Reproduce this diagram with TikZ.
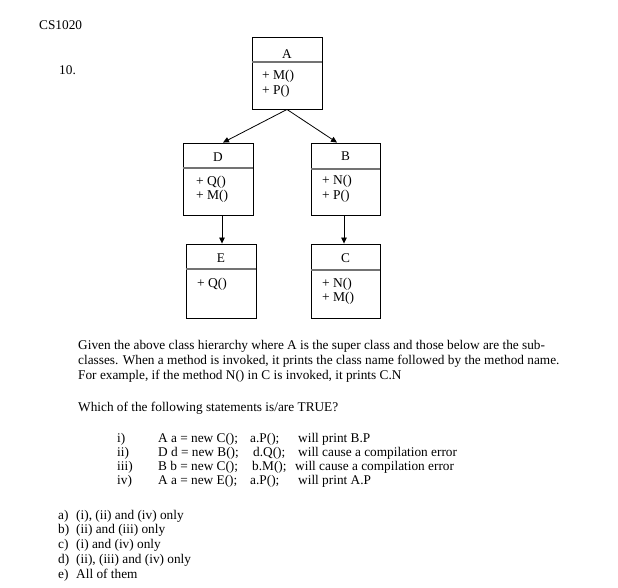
\documentclass[tikz,border=0pt]{standalone}
\usepackage{fontspec}
\setmainfont{Liberation Serif}
\usetikzlibrary{arrows.meta,calc}
\tikzset{
  cls/.style={draw=black, line width=0.9pt, fill=white, inner sep=0pt},
  divider/.style={draw=black!55, line width=1.3pt},
  txt/.style={anchor=base west, inner sep=0pt, font=\fontsize{13.3}{15}\selectfont},
  btxt/.style={anchor=base west, inner sep=0pt, font=\fontsize{13.5}{15}\selectfont},
  bname/.style={anchor=base, inner sep=0pt, font=\fontsize{13.3}{15}\selectfont},
  inh/.style={draw=black, line width=0.8pt, -{Triangle[length=6pt,width=5.5pt]}}
}
\begin{document}
\begin{tikzpicture}[x=1pt,y=-1pt]
\useasboundingbox[fill=white] (0,0) rectangle (618,587);

% header
\node[txt] (hdr) at (39,29) {CS1020};
\node[txt] (qn) at (59,74) {10.};

% class boxes
\node[cls, minimum width=70pt, minimum height=72pt] (A) at (287,73) {};
\node[cls, minimum width=70pt, minimum height=72pt] (D) at (218,179) {};
\node[cls, minimum width=69pt, minimum height=72pt] (B) at (345.5,179) {};
\node[cls, minimum width=70pt, minimum height=74pt] (E) at (221,281) {};
\node[cls, minimum width=69pt, minimum height=74pt] (C) at (345.5,281) {};

% dividers
\draw[divider] (A.west |- 0,62) -- (A.east |- 0,62);
\draw[divider] (D.west |- 0,168) -- (D.east |- 0,168);
\draw[divider] (B.west |- 0,169) -- (B.east |- 0,169);
\draw[divider] (E.west |- 0,269) -- (E.east |- 0,269);
\draw[divider] (C.west |- 0,270) -- (C.east |- 0,270);

% box contents
\node[bname] (An) at (287,58) {A};
\node[btxt] (Am1) at (262,79) {+ M()};
\node[btxt] (Am2) at (262,94) {+ P()};

\node[bname] (Dn) at (218,161) {D};
\node[btxt] (Dm1) at (196,185) {+ Q()};
\node[btxt] (Dm2) at (196,199) {+ M()};

\node[bname] (Bn) at (345.5,160) {B};
\node[btxt] (Bm1) at (322,184) {+ N()};
\node[btxt] (Bm2) at (322,199) {+ P()};

\node[bname] (En) at (221,262) {E};
\node[btxt] (Em1) at (197,287) {+ Q()};

\node[bname] (Cn) at (345.5,262) {C};
\node[btxt] (Cm1) at (322,287) {+ N()};
\node[btxt] (Cm2) at (322,301) {+ M()};

% connectors
\draw[inh] (A.south) -- ($(D.north)+(5,0)$);
\draw[inh] (A.south) -- ($(B.north)+(-8.5,0)$);
\draw[inh] (D.south -| 222,0) -- (E.north -| 222,0);
\draw[inh] (B.south -| 344,0) -- (C.north -| 344,0);

% paragraph
\node[txt] (p1) at (78,349) {Given the above class hierarchy where A is the super class and those below are the sub-};
\node[txt] (p2) at (78,364) {classes. When a method is invoked, it prints the class name followed by the method name.};
\node[txt] (p3) at (78,379) {For example, if the method N() in C is invoked, it prints C.N};
\node[txt] (p4) at (78,411) {Which of the following statements is/are TRUE?};

% statements
\node[txt] (s1r) at (117,442) {i)};
\node[txt] (s1a) at (158,442) {A a = new C();};
\node[txt] (s1b) at (250,442) {a.P();};
\node[txt] (s1c) at (298,442) {will print B.P};

\node[txt] (s2r) at (117,456) {ii)};
\node[txt] (s2a) at (158,456) {D d = new B();};
\node[txt] (s2b) at (253,456) {d.Q();};
\node[txt] (s2c) at (298,456) {will cause a compilation error};

\node[txt] (s3r) at (117,470) {iii)};
\node[txt] (s3a) at (158,470) {B b = new C();};
\node[txt] (s3b) at (252,470) {b.M();};
\node[txt] (s3c) at (295,470) {will cause a compilation error};

\node[txt] (s4r) at (117,484) {iv)};
\node[txt] (s4a) at (158,484) {A a = new E();};
\node[txt] (s4b) at (250,484) {a.P();};
\node[txt] (s4c) at (298,484) {will print A.P};

% answers
\node[txt] (a1) at (58,519) {a)};
\node[txt] (a1t) at (76,519) {(i), (ii) and (iv) only};
\node[txt] (a2) at (58,533) {b)};
\node[txt] (a2t) at (76,533) {(ii) and (iii) only};
\node[txt] (a3) at (58,548) {c)};
\node[txt] (a3t) at (76,548) {(i) and (iv) only};
\node[txt] (a4) at (58,563) {d)};
\node[txt] (a4t) at (76,563) {(ii), (iii) and (iv) only};
\node[txt] (a5) at (58,578) {e)};
\node[txt] (a5t) at (76,578) {All of them};
\end{tikzpicture}
\end{document}
